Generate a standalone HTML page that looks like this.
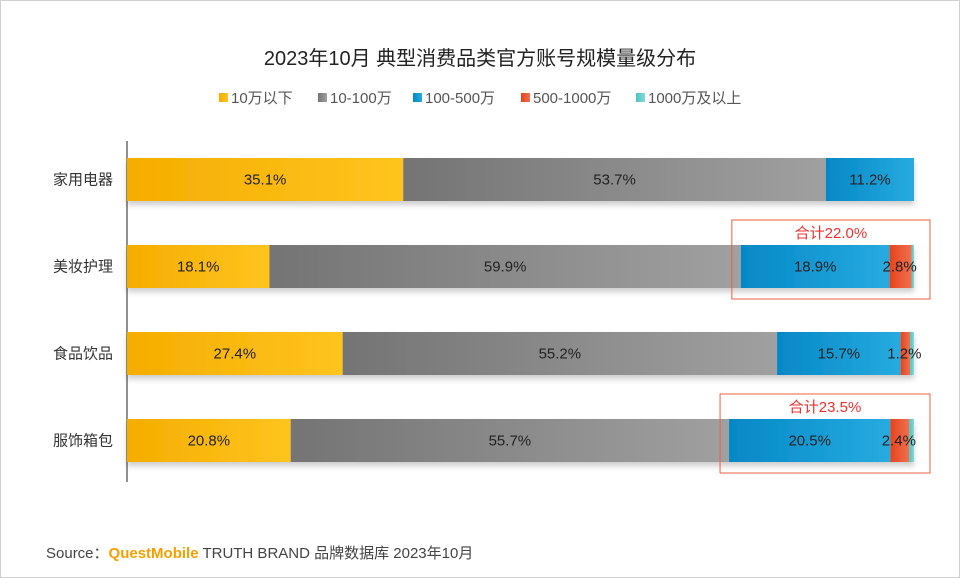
<!DOCTYPE html>
<html><head><meta charset="utf-8"><style>
body{margin:0;background:#fff;}
#wrap{position:relative;width:958px;height:576px;border:1px solid #d0d0d0;overflow:hidden;font-family:"Liberation Sans","Noto Sans CJK SC",sans-serif;}
</style></head><body>
<div id="wrap">
<svg id="svg" width="958" height="576" xmlns="http://www.w3.org/2000/svg">
<defs>
<linearGradient id="g0" x1="0" x2="1"><stop offset="0" stop-color="#f5ad00"/><stop offset="1" stop-color="#ffc41f"/></linearGradient>
<linearGradient id="g1" x1="0" x2="1"><stop offset="0" stop-color="#747474"/><stop offset="1" stop-color="#a0a0a0"/></linearGradient>
<linearGradient id="g2" x1="0" x2="1"><stop offset="0" stop-color="#0588c6"/><stop offset="1" stop-color="#27abe0"/></linearGradient>
<linearGradient id="g3" x1="0" x2="1"><stop offset="0" stop-color="#e5441c"/><stop offset="1" stop-color="#f07050"/></linearGradient>
<linearGradient id="g4" x1="0" x2="1"><stop offset="0" stop-color="#48c4c4"/><stop offset="1" stop-color="#8ad8d8"/></linearGradient>
<filter id="sh" x="-5%" y="-20%" width="110%" height="160%"><feDropShadow dx="0" dy="4" stdDeviation="3" flood-color="#000" flood-opacity="0.2"/></filter>
</defs>
<text x="479" y="64" text-anchor="middle" font-size="20" fill="#222">2023年10月 典型消费品类官方账号规模量级分布</text>
<g id="legend"></g>
<line x1="126" y1="140" x2="126" y2="481" stroke="#222" stroke-width="1"/>
<g id="bars"></g>
<text x="45" y="557" font-size="15" fill="#444">Source：<tspan fill="#f5a000" font-weight="bold">QuestMobile</tspan> TRUTH BRAND 品牌数据库 2023年10月</text>
</svg>
</div>
<script>
const categories=["家用电器","美妆护理","食品饮品","服饰箱包"];
const seriesNames=["10万以下","10-100万","100-500万","500-1000万","1000万及以上"];
const s0=[35.1,18.1,27.4,20.8];
const s1=[53.7,59.9,55.2,55.7];
const s2=[11.2,18.9,15.7,20.5];
const s3=[0,2.8,1.2,2.4];
const s4=[0,0.3,0.5,0.6];
const totals=["","合计22.0%","","合计23.5%"];
const series=[s0,s1,s2,s3,s4];
const NS="http://www.w3.org/2000/svg";
const x0=126,W=787,rowTop=157,rowStep=87,barH=43;
const xs=v=>x0+v/100*W;
const svg=document.getElementById('svg');
const bars=document.getElementById('bars');
const leg=document.getElementById('legend');
function mk(t,a,p){const e=document.createElementNS(NS,t);for(const k in a)e.setAttribute(k,a[k]);(p||svg).appendChild(e);return e;}
const legX=[218,317,412,520,635];
seriesNames.forEach((n,i)=>{
 const r=mk('rect',{x:legX[i],y:92,width:9,height:9,fill:`url(#g${i})`},leg);
 
 
 const t=mk('text',{x:legX[i]+12,y:102,'font-size':15,fill:'#555'},leg);
 t.textContent=n;
 
 
});
categories.forEach((c,j)=>{
 const y=rowTop+j*rowStep;
 const lab=mk('text',{x:112,y:y+barH/2+5,'text-anchor':'end','font-size':15,fill:'#333'},bars);
 lab.textContent=c;
 
 
 const g=mk('g',{filter:'url(#sh)'},bars);
 let acc=0;const segs=[];
 series.forEach((s,i)=>{
  const v=s[j];const a=xs(acc),b=xs(acc+v);acc+=v;
  if(v<=0)return;
  const r=mk('rect',{x:a,y:y,width:b-a,height:barH,fill:`url(#g${i})`},g);
  
  
  segs.push([i,v,a,b]);
 });
 segs.forEach(([i,v,a,b])=>{
  if(i>3)return;
  const t=mk('text',{x:(a+b)/2+(i==3?-1:0),y:y+barH/2+5,'text-anchor':'middle','font-size':15,fill:'#222'},bars);
  t.textContent=v.toFixed(1)+'%';
  
  
 });
 if(totals[j]){
  const bx=xs(s0[j]+s1[j])-9;
  const r=mk('rect',{x:bx,y:y-25,width:929-bx,height:79,fill:'none',stroke:'#ee6040','stroke-width':1},bars);
  
  
  const t=mk('text',{x:(bx+929)/2,y:y-7,'text-anchor':'middle','font-size':15,fill:'#f03030'},bars);
  t.textContent=totals[j];
  
  
 }
});
</script>
</body></html>
